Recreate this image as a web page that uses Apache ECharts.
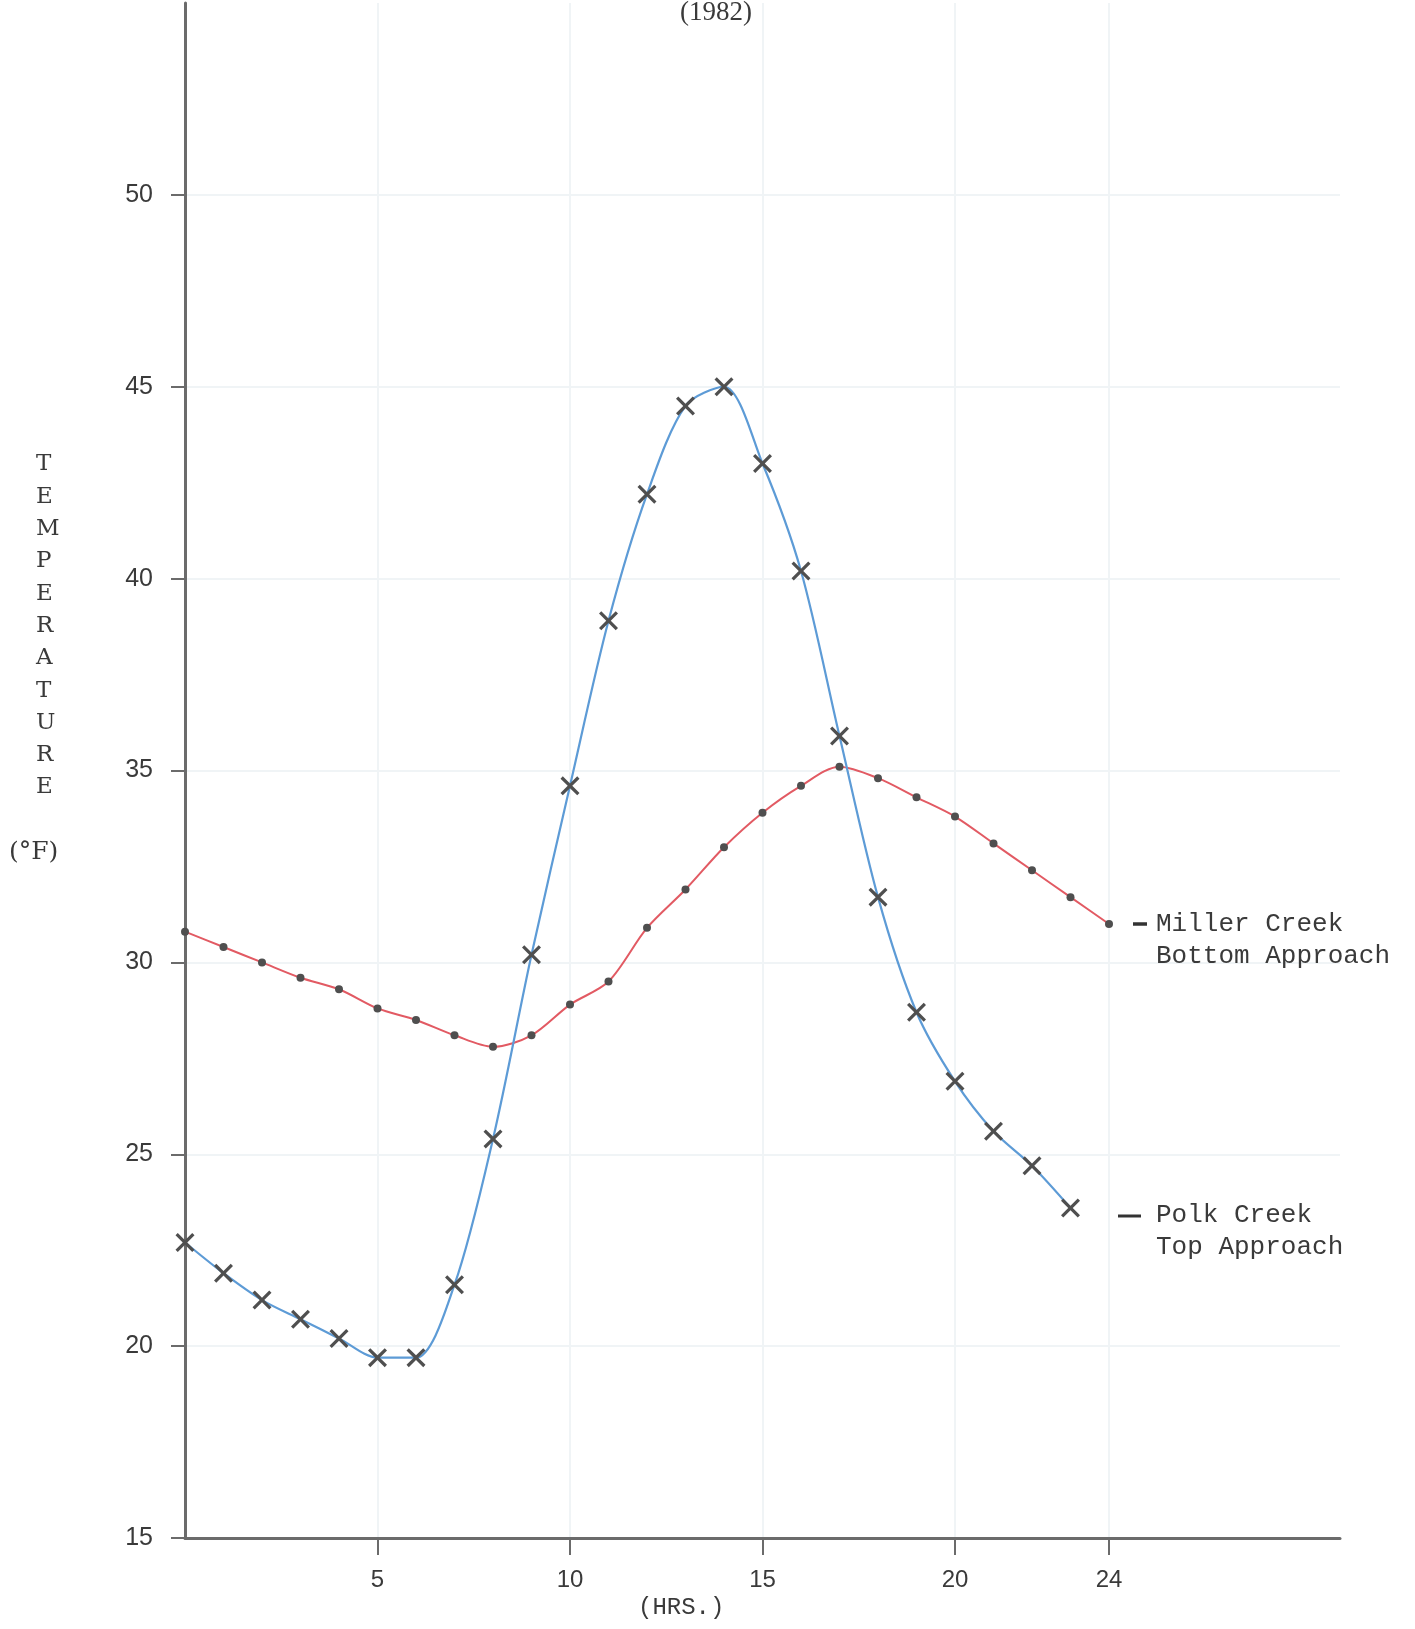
<!DOCTYPE html>
<html>
<head>
<meta charset="utf-8">
<script src="https://cdn.jsdelivr.net/npm/echarts@6/dist/echarts.min.js"></script>
<style>
html,body{margin:0;padding:0;background:#fff;}
#chart{width:1415px;height:1629px;}
</style>
</head>
<body>
<div id="chart"></div>
<script>
// Hours of day
const hoursPolk = [0,1,2,3,4,5,6,7,8,9,10,11,12,13,14,15,16,17,18,19,20,21,22,23];
const hoursMiller = [0,1,2,3,4,5,6,7,8,9,10,11,12,13,14,15,16,17,18,19,20,21,22,23,24];
// Temperature (°F)
const polkTop = [22.7,21.9,21.2,20.7,20.2,19.7,19.7,21.6,25.4,30.2,34.6,38.9,42.2,44.5,45.0,43.0,40.2,35.9,31.7,28.7,26.9,25.6,24.7,23.6];
const millerBottom = [30.8,30.4,30.0,29.6,29.3,28.8,28.5,28.1,27.8,28.1,28.9,29.5,30.9,31.9,33.0,33.9,34.6,35.1,34.8,34.3,33.8,33.1,32.4,31.7,31.0];
// Tick labels
const xTickValues = [5,10,15,20,24];
const yTickValues = [15,20,25,30,35,40,45,50];
const yTitleLetters = ['T','E','M','P','E','R','A','T','U','R','E'];

const chart = echarts.init(document.getElementById('chart'));
const axisColor = '#6b6b6b';
const markColor = '#4f4f4f';
const textColor = '#3a3a3a';
const crossPath = 'path://M0,1.2 L1.2,0 L5,3.8 L8.8,0 L10,1.2 L6.2,5 L10,8.8 L8.8,10 L5,6.2 L1.2,10 L0,8.8 L3.8,5 Z';

const graphics = [];
yTitleLetters.forEach((ch, i) => {
  graphics.push({type:'text', z: 100, left: 36, top: 453 + i*32.3,
    style:{text: ch, font: '23px "DejaVu Serif"', fill: textColor}});
});
graphics.push({type:'text', z: 100, left: 9, top: 840, style:{text:'(°F)', font:'25px "DejaVu Serif"', fill: textColor}});
graphics.push({type:'text', z: 100, left: 680, top: -1, style:{text:'(1982)', font:'27px "Liberation Serif"', fill: textColor}});
graphics.push({type:'text', z: 100, left: 638, top: 1596, style:{text:'(HRS.)', font:'24px "Liberation Mono"', fill: textColor}});
graphics.push({type:'line', z: 100, shape:{x1:1133, y1:924, x2:1147, y2:924}, style:{stroke:'#333', lineWidth:3.5}});
graphics.push({type:'text', z: 100, left: 1156, top: 908, style:{text:'Miller Creek\nBottom Approach', font:'26px "Liberation Mono"', lineHeight:32, fill: textColor}});
graphics.push({type:'line', z: 100, shape:{x1:1118, y1:1216, x2:1141, y2:1216}, style:{stroke:'#333', lineWidth:3}});
graphics.push({type:'text', z: 100, left: 1156, top: 1199, style:{text:'Polk Creek\nTop Approach', font:'26px "Liberation Mono"', lineHeight:32, fill: textColor}});

chart.setOption({
  backgroundColor: '#ffffff',
  animation: false,
  grid: {left: 185, right: 75, top: 3, bottom: 91, containLabel: false},
  xAxis: {
    type: 'value', min: 0, max: 30, interval: 5,
    axisLine: {show: true, onZero: false, lineStyle: {color: axisColor, width: 3}},
    axisTick: {show: true, length: 17, inside: false, customValues: xTickValues, lineStyle: {color: axisColor, width: 2}},
    axisLabel: {show: true, customValues: xTickValues, margin: 30, color: textColor, fontSize: 24, fontFamily: 'Liberation Sans'},
    splitLine: {show: true, lineStyle: {color: '#f0f4f6', width: 2}}
  },
  yAxis: {
    type: 'value', min: 15, max: 55, interval: 5,
    axisLine: {show: true, onZero: false, lineStyle: {color: axisColor, width: 3}},
    axisTick: {show: true, length: 14, customValues: yTickValues, lineStyle: {color: axisColor, width: 2}},
    axisLabel: {show: true, customValues: yTickValues, margin: 32, color: textColor, fontSize: 25, fontFamily: 'Liberation Sans'},
    splitLine: {show: true, lineStyle: {color: '#f0f4f6', width: 2}}
  },
  graphic: graphics,
  series: [
    {
      name: 'Miller Creek Bottom Approach', type: 'line', smooth: 0.3,
      data: hoursMiller.map((h, i) => [h, millerBottom[i]]),
      lineStyle: {color: '#e25a63', width: 2},
      symbol: 'circle', symbolSize: 8,
      itemStyle: {color: markColor},
      z: 3
    },
    {
      name: 'Polk Creek Top Approach', type: 'line', smooth: 0.3,
      data: hoursPolk.map((h, i) => [h, polkTop[i]]),
      lineStyle: {color: '#5d9bd6', width: 2.2},
      symbol: crossPath, symbolSize: 19,
      itemStyle: {color: markColor},
      z: 4
    }
  ]
});
</script>
</body>
</html>
